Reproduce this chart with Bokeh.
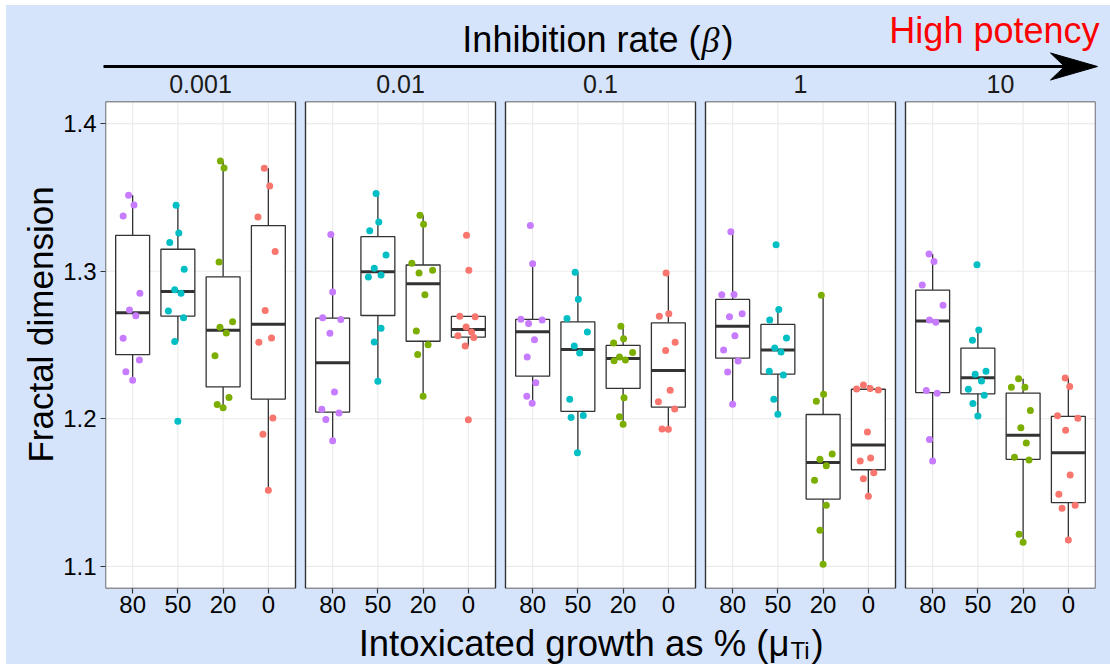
import numpy as np
from bokeh.plotting import figure
from bokeh.models import Range1d, FixedTicker
from bokeh.layouts import row, column
from bokeh.embed import file_html
from bokeh.resources import INLINE
from bokeh.core.properties import value

# ---------------- data ----------------
betas = ["0.001", "0.01", "0.1", "1", "10"]
growth_labels = ["80", "50", "20", "0"]
growth_colors = ["#C77CFF", "#00BFC4", "#7CAE00", "#F8766D"]

# fractal dimension per beta: one list per growth level (80, 50, 20, 0)
fd_beta_0001 = [
    [1.3514, 1.3449, 1.3374, 1.2850, 1.2737, 1.2699, 1.2545, 1.2398, 1.2319, 1.2261],
    [1.3447, 1.3259, 1.3194, 1.3013, 1.2875, 1.2850, 1.2730, 1.2685, 1.2523, 1.1983],
    [1.3747, 1.3700, 1.3063, 1.2658, 1.2620, 1.2581, 1.2428, 1.2145, 1.2096, 1.2075],
    [1.3697, 1.3578, 1.3368, 1.3133, 1.2733, 1.2548, 1.2518, 1.2005, 1.1895, 1.1515],
]
fd_beta_001 = [
    [1.3248, 1.2859, 1.2685, 1.2672, 1.2579, 1.2182, 1.2064, 1.2039, 1.1996, 1.1852],
    [1.3526, 1.3334, 1.3275, 1.3110, 1.3020, 1.2974, 1.2961, 1.2613, 1.2520, 1.2254],
    [1.3379, 1.3318, 1.3054, 1.3006, 1.2988, 1.2841, 1.2595, 1.2502, 1.2435, 1.2152],
    [1.3243, 1.3006, 1.2694, 1.2692, 1.2622, 1.2588, 1.2563, 1.2550, 1.2493, 1.1994],
]
fd_beta_01 = [
    [1.3309, 1.3051, 1.2674, 1.2670, 1.2645, 1.2536, 1.2419, 1.2245, 1.2152, 1.2105],
    [1.2993, 1.2810, 1.2679, 1.2588, 1.2493, 1.2446, 1.2132, 1.2023, 1.2008, 1.1770],
    [1.2627, 1.2543, 1.2514, 1.2450, 1.2419, 1.2398, 1.2394, 1.2143, 1.2014, 1.1963],
    [1.2988, 1.2712, 1.2694, 1.2518, 1.2462, 1.2193, 1.2116, 1.2066, 1.1931, 1.1929],
]
fd_beta_1 = [
    [1.3268, 1.2841, 1.2843, 1.2712, 1.2692, 1.2563, 1.2466, 1.2392, 1.2317, 1.2098],
    [1.3180, 1.2740, 1.2670, 1.2548, 1.2480, 1.2453, 1.2322, 1.2297, 1.2132, 1.2030],
    [1.2837, 1.2166, 1.2118, 1.1762, 1.1725, 1.1682, 1.1583, 1.1414, 1.1244, 1.1014],
    [1.2202, 1.2229, 1.2206, 1.2195, 1.1911, 1.1734, 1.1714, 1.1635, 1.1594, 1.1475],
]
fd_beta_10 = [
    [1.3117, 1.3065, 1.2907, 1.2769, 1.2670, 1.2654, 1.2191, 1.2173, 1.1859, 1.1714],
    [1.3044, 1.2602, 1.2532, 1.2322, 1.2301, 1.2256, 1.2200, 1.2159, 1.2103, 1.2019],
    [1.2272, 1.2213, 1.2213, 1.2057, 1.1940, 1.1836, 1.1739, 1.1721, 1.1217, 1.1163],
    [1.2276, 1.2218, 1.2021, 1.2003, 1.1922, 1.1619, 1.1488, 1.1414, 1.1393, 1.1179],
]

# horizontal jitter of each point (category units)
jit_beta_0001 = [
    [-0.09, 0.03, -0.21, 0.16, -0.07, 0.07, -0.21, 0.15, -0.15, 0.00],
    [-0.04, 0.02, -0.18, 0.14, -0.07, 0.07, -0.21, 0.125, -0.07, 0.00],
    [-0.06, 0.02, -0.09, 0.21, -0.07, 0.07, -0.18, 0.13, -0.13, 0.00],
    [-0.09, 0.03, -0.23, 0.15, -0.07, 0.07, -0.21, 0.10, -0.12, 0.00],
]
jit_beta_001 = [
    [-0.04, 0.00, -0.22, 0.18, -0.06, 0.04, -0.24, 0.14, -0.15, 0.00],
    [-0.04, 0.02, -0.18, 0.18, -0.08, 0.07, -0.21, 0.07, -0.08, 0.00],
    [-0.07, 0.01, -0.25, 0.21, -0.09, 0.04, -0.15, 0.11, -0.12, 0.00],
    [-0.04, 0.01, -0.19, 0.15, -0.05, 0.07, -0.23, 0.12, -0.07, 0.00],
]
jit_beta_01 = [
    [-0.05, 0.00, -0.26, 0.21, -0.09, 0.04, -0.12, 0.07, -0.13, -0.01],
    [-0.06, 0.01, -0.24, 0.21, -0.08, 0.04, -0.18, 0.12, -0.15, -0.01],
    [-0.05, 0.01, -0.21, 0.21, -0.08, 0.05, -0.20, 0.02, -0.08, 0.00],
    [-0.05, 0.01, -0.20, 0.15, -0.06, 0.04, -0.22, 0.14, -0.14, 0.00],
]
jit_beta_1 = [
    [-0.04, -0.24, 0.03, 0.21, -0.07, 0.05, -0.20, 0.12, -0.11, 0.00],
    [-0.04, 0.02, -0.18, 0.19, -0.07, 0.07, -0.19, 0.12, -0.09, 0.00],
    [-0.04, 0.01, -0.15, 0.20, -0.07, 0.07, -0.19, 0.07, -0.07, 0.00],
    [-0.26, -0.11, 0.04, 0.22, -0.02, 0.05, -0.18, 0.12, -0.11, 0.00],
]
jit_beta_10 = [
    [-0.08, 0.03, -0.23, 0.23, -0.07, 0.07, -0.14, 0.10, -0.07, 0.00],
    [-0.02, 0.02, -0.12, 0.18, -0.06, 0.08, -0.21, 0.14, -0.11, 0.00],
    [-0.10, -0.26, 0.04, 0.16, -0.05, 0.07, -0.19, 0.13, -0.09, 0.00],
    [-0.07, 0.03, -0.24, 0.21, -0.06, 0.04, -0.21, 0.15, -0.14, 0.00],
]

y_ticks = [1.1, 1.2, 1.3, 1.4]
y_limits = (1.1, 1.4)

fd_all = [fd_beta_0001, fd_beta_001, fd_beta_01, fd_beta_1, fd_beta_10]
jit_all = [jit_beta_0001, jit_beta_001, jit_beta_01, jit_beta_1, jit_beta_10]

# ---------------- style / geometry ----------------
BG = "#D6E4FB"
FONT = "Liberation Sans"
DARK = "#333333"
GRID = "#EBEBEB"
MID = 0.35  # offset of the 'middle' text anchor above the baseline, in em

PANEL_LEFT, PANEL_W, PANEL_GAP = 105, 190, 10
PANEL_TOP, PANEL_BOTTOM = 101, 588
LEFT_BORDER, RIGHT_BORDER, BOTTOM_BORDER = 45, 15, 35
X_PAD = 0.6
BOX_W = 0.75

n_cat = len(growth_labels)
units_w = (n_cat - 1) + 2 * X_PAD
pxu = PANEL_W / units_w
step = (PANEL_W + PANEL_GAP) / pxu
y_pad = 0.05 * (y_limits[1] - y_limits[0])
Y_LO, Y_HI = y_limits[0] - y_pad, y_limits[1] + y_pad
total_panels_px = len(betas) * PANEL_W + (len(betas) - 1) * PANEL_GAP

main_w = LEFT_BORDER + total_panels_px + RIGHT_BORDER
main_h = (PANEL_BOTTOM - PANEL_TOP) + BOTTOM_BORDER

main = figure(width=main_w, height=main_h,
              x_range=Range1d(1 - X_PAD, 1 - X_PAD + total_panels_px / pxu),
              y_range=Range1d(Y_LO, Y_HI),
              output_backend="svg", toolbar_location=None,
              min_border_left=LEFT_BORDER, min_border_right=RIGHT_BORDER,
              min_border_top=0, min_border_bottom=BOTTOM_BORDER,
              background_fill_color=BG, border_fill_color=BG,
              outline_line_color=None)
main.xgrid.visible = False
main.ygrid.visible = False

x_ticks, x_over = [], {}
for k in range(len(betas)):
    off = k * step
    left, right = off + 1 - X_PAD, off + n_cat + X_PAD
    main.quad(left=[left], right=[right], bottom=[Y_LO], top=[Y_HI],
              fill_color="white", line_color=None)
    cats = [off + j + 1 for j in range(n_cat)]
    main.segment(x0=cats, x1=cats, y0=[Y_LO] * n_cat, y1=[Y_HI] * n_cat,
                 line_color=GRID, line_width=1.1)
    main.segment(x0=[left] * len(y_ticks), x1=[right] * len(y_ticks),
                 y0=y_ticks, y1=y_ticks, line_color=GRID, line_width=1.1)
    for j in range(n_cat):
        xc = off + j + 1
        x_ticks.append(xc)
        x_over[xc] = growth_labels[j]
        v = np.array(fd_all[k][j])
        q1, med, q3 = np.percentile(v, [25, 50, 75])
        iqr = q3 - q1
        up = v[v <= q3 + 1.5 * iqr].max()
        lo = v[v >= q1 - 1.5 * iqr].min()
        main.segment(x0=[xc, xc], x1=[xc, xc], y0=[q3, q1], y1=[up, lo],
                     line_color=DARK, line_width=1.3)
        main.quad(left=[xc - BOX_W / 2], right=[xc + BOX_W / 2], bottom=[q1], top=[q3],
                  fill_color="white", line_color=DARK, line_width=1.3)
        main.segment(x0=[xc - BOX_W / 2], x1=[xc + BOX_W / 2], y0=[med], y1=[med],
                     line_color=DARK, line_width=3)
    for j in range(n_cat):
        xc = off + j + 1
        xs = [xc + d for d in jit_all[k][j]]
        main.scatter(x=xs, y=fd_all[k][j], size=7, fill_color=growth_colors[j],
                     line_color=None)
    main.quad(left=[left], right=[right], bottom=[Y_LO], top=[Y_HI],
              fill_color=None, line_color=DARK, line_width=1.4)

for ax in (main.xaxis[0], main.yaxis[0]):
    ax.axis_line_color = None
    ax.major_tick_line_color = DARK
    ax.major_tick_line_width = 1.2
    ax.major_tick_in = 0
    ax.major_tick_out = 5
    ax.minor_tick_line_color = None
    ax.major_label_text_font = FONT
    ax.major_label_text_font_size = "24px"
    ax.major_label_text_color = "black"

main.xaxis.ticker = FixedTicker(ticks=x_ticks)
main.xaxis.major_label_overrides = x_over
main.xaxis.major_label_standoff = 2
main.yaxis.ticker = FixedTicker(ticks=y_ticks)
main.yaxis.major_label_standoff = 4


def blank(w, h, xr, yr):
    f = figure(width=w, height=h, x_range=Range1d(*xr), y_range=Range1d(*yr),
               output_backend="svg", toolbar_location=None,
               x_axis_type=None, y_axis_type=None,
               min_border=0, min_border_left=0, min_border_right=0,
               min_border_top=0, min_border_bottom=0,
               background_fill_color=BG, border_fill_color=BG,
               outline_line_color=None)
    f.xgrid.visible = False
    f.ygrid.visible = False
    return f


def label(f, x, y_base, text, size, align="center", color="black",
          font=FONT, style="normal"):
    """text placed by its baseline (page px); drawn with a 'middle' anchor"""
    ys = [yy - MID * size for yy in y_base]
    f.text(x=x, y=ys, text=text, text_font=value(font), text_font_style=style,
           text_font_size=f"{size}px", text_align=align, text_baseline="middle",
           text_color=color)


# header (page pixel coordinates)
X0, X1, Y0, Y_END = 6, 1110, 5, 664
header = blank(X1 - X0, PANEL_TOP - Y0, (X0, X1), (PANEL_TOP, Y0))
label(header, [700], [52], ["Inhibition rate ("], 36, align="right")
label(header, [701], [52], ["β"], 36, align="left", font="Liberation Serif", style="italic")
label(header, [721], [52], [")"], 36, align="left")
label(header, [1099], [43], ["High potency"], 36, align="right", color="#FF0000")
header.line(x=[103, 1066], y=[66, 66], line_color="black", line_width=3)
header.patch(x=[1097, 1050, 1064, 1050], y=[66, 52.5, 66, 79.5],
             fill_color="black", line_color="black", line_width=1)
centers = [PANEL_LEFT + PANEL_W / 2 + k * (PANEL_W + PANEL_GAP) for k in range(len(betas))]
label(header, centers, [92.3] * len(betas), betas, 25, color="#1A1A1A")

# left title
left_x0 = PANEL_LEFT - LEFT_BORDER
leftfig = blank(left_x0 - X0, main_h, (X0, left_x0), (PANEL_TOP + main_h, PANEL_TOP))
tsize = 35
leftfig.text(x=[52 - MID * tsize], y=[340], text=["Fractal dimension"], angle=np.pi / 2,
             text_font=value(FONT), text_font_size=f"{tsize}px", text_align="center",
             text_baseline="middle", text_color="black")

# footer title
foot_y0 = PANEL_TOP + main_h
footer = blank(X1 - X0, Y_END - foot_y0, (X0, X1), (Y_END, foot_y0))
label(footer, [789], [656], ["Intoxicated growth as % (μ"], 36.5, align="right")
label(footer, [790], [658.5], ["Ti"], 24, align="left")
label(footer, [811], [656], [")"], 36.5, align="left")

mid_row = row(leftfig, main, spacing=0, styles={"background-color": BG})
layout = column(header, mid_row, footer, spacing=0,
                margin=(Y0, 0, 0, X0), styles={"background-color": BG})

open("out.html", "w").write(file_html(layout, INLINE))
